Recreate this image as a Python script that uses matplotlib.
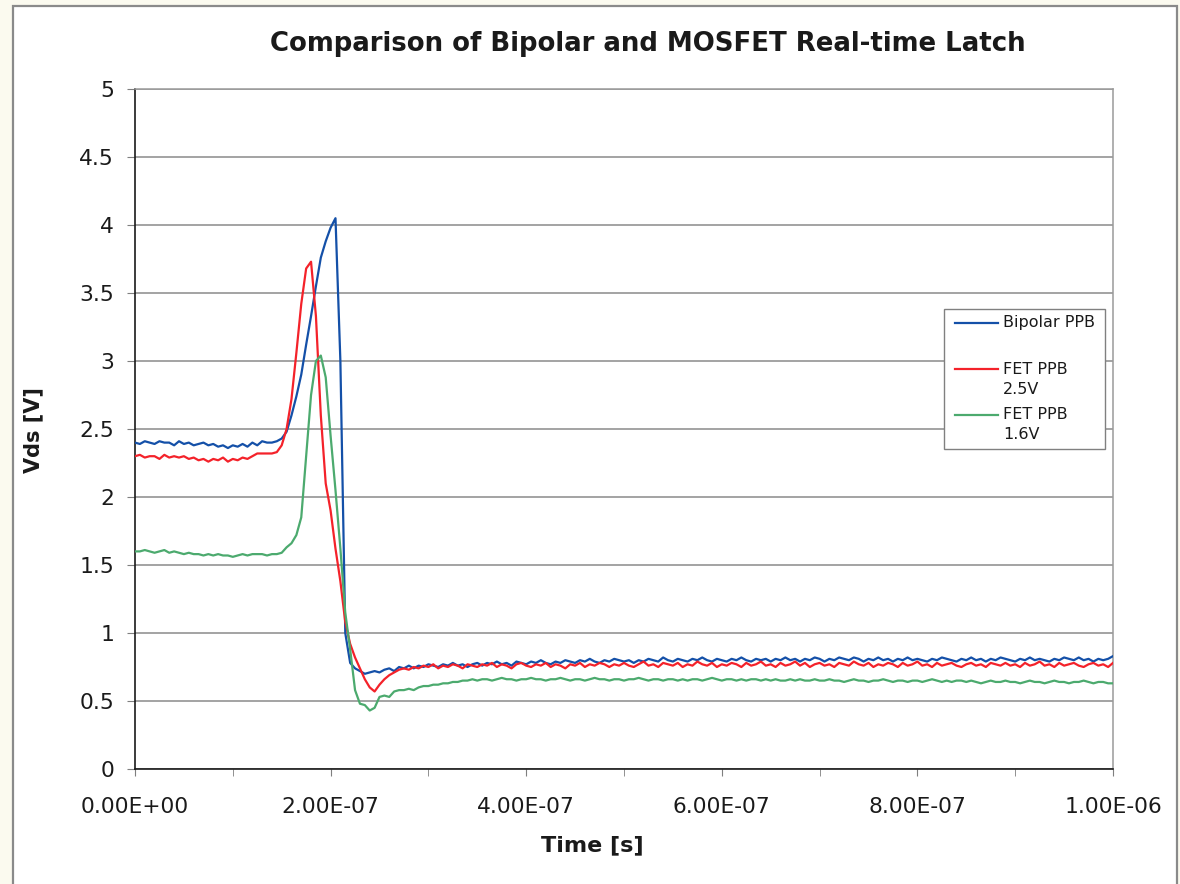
import numpy as np
import matplotlib.pyplot as plt
from matplotlib.patches import Rectangle

plt.rcParams['font.family'] = ['DejaVu Sans']

# sampled traces, one value every 5 ns from 0 to 1 us
t = np.linspace(0, 1e-6, 201)

v_bipolar = [
    2.40, 2.39, 2.41, 2.40, 2.39, 2.41, 2.40, 2.40, 2.38, 2.41,
    2.39, 2.40, 2.38, 2.39, 2.40, 2.38, 2.39, 2.37, 2.38, 2.36,
    2.38, 2.37, 2.39, 2.37, 2.40, 2.38, 2.41, 2.40, 2.40, 2.41,
    2.43, 2.48, 2.60, 2.74, 2.90, 3.12, 3.33, 3.55, 3.76, 3.88,
    3.98, 4.05, 3.00, 1.00, 0.78, 0.74, 0.72, 0.70, 0.71, 0.72,
    0.71, 0.73, 0.74, 0.72, 0.75, 0.74, 0.76, 0.74, 0.76, 0.75,
    0.77, 0.76, 0.75, 0.77, 0.76, 0.78, 0.76, 0.77, 0.75, 0.77,
    0.78, 0.76, 0.78, 0.77, 0.79, 0.77, 0.78, 0.76, 0.79, 0.78,
    0.77, 0.79, 0.78, 0.80, 0.78, 0.77, 0.79, 0.78, 0.80, 0.79,
    0.78, 0.80, 0.79, 0.81, 0.79, 0.78, 0.80, 0.79, 0.81, 0.80,
    0.79, 0.80, 0.78, 0.80, 0.79, 0.81, 0.80, 0.79, 0.82, 0.80,
    0.79, 0.81, 0.80, 0.79, 0.81, 0.80, 0.82, 0.80, 0.79, 0.81,
    0.80, 0.79, 0.81, 0.80, 0.82, 0.80, 0.79, 0.81, 0.80, 0.81,
    0.79, 0.81, 0.80, 0.82, 0.80, 0.81, 0.79, 0.81, 0.80, 0.82,
    0.81, 0.79, 0.81, 0.80, 0.82, 0.81, 0.80, 0.82, 0.81, 0.79,
    0.81, 0.80, 0.82, 0.80, 0.81, 0.79, 0.81, 0.80, 0.82, 0.80,
    0.81, 0.80, 0.79, 0.81, 0.80, 0.82, 0.81, 0.80, 0.79, 0.81,
    0.80, 0.82, 0.80, 0.81, 0.79, 0.81, 0.80, 0.82, 0.81, 0.80,
    0.79, 0.81, 0.80, 0.82, 0.80, 0.81, 0.80, 0.79, 0.81, 0.80,
    0.82, 0.81, 0.80, 0.82, 0.80, 0.81, 0.79, 0.81, 0.80, 0.81,
    0.83,
]

v_fet_25 = [
    2.30, 2.31, 2.29, 2.30, 2.30, 2.28, 2.31, 2.29, 2.30, 2.29,
    2.30, 2.28, 2.29, 2.27, 2.28, 2.26, 2.28, 2.27, 2.29, 2.26,
    2.28, 2.27, 2.29, 2.28, 2.30, 2.32, 2.32, 2.32, 2.32, 2.33,
    2.38, 2.50, 2.72, 3.06, 3.42, 3.68, 3.73, 3.33, 2.60, 2.10,
    1.90, 1.62, 1.38, 1.08, 0.92, 0.82, 0.74, 0.66, 0.60, 0.57,
    0.62, 0.66, 0.69, 0.71, 0.73, 0.74, 0.73, 0.75, 0.74, 0.76,
    0.75, 0.77, 0.74, 0.76, 0.75, 0.77, 0.76, 0.74, 0.77, 0.76,
    0.75, 0.77, 0.76, 0.78, 0.75, 0.77, 0.76, 0.74, 0.77, 0.78,
    0.76, 0.75, 0.77, 0.76, 0.78, 0.75, 0.77, 0.76, 0.74, 0.77,
    0.76, 0.78, 0.75, 0.77, 0.76, 0.78, 0.77, 0.75, 0.77, 0.76,
    0.78, 0.76, 0.75, 0.77, 0.79, 0.76, 0.77, 0.75, 0.78, 0.77,
    0.76, 0.78, 0.75, 0.77, 0.76, 0.79, 0.77, 0.76, 0.78, 0.75,
    0.77, 0.76, 0.78, 0.77, 0.75, 0.78, 0.76, 0.77, 0.79, 0.76,
    0.77, 0.75, 0.78, 0.76, 0.77, 0.79, 0.76, 0.78, 0.75, 0.77,
    0.78, 0.76, 0.77, 0.75, 0.78, 0.77, 0.76, 0.79, 0.77, 0.76,
    0.78, 0.75, 0.77, 0.76, 0.78, 0.77, 0.75, 0.78, 0.76, 0.77,
    0.79, 0.76, 0.77, 0.75, 0.78, 0.76, 0.77, 0.78, 0.76, 0.75,
    0.77, 0.78, 0.76, 0.77, 0.75, 0.78, 0.77, 0.76, 0.78, 0.76,
    0.77, 0.75, 0.78, 0.76, 0.77, 0.79, 0.76, 0.77, 0.75, 0.78,
    0.76, 0.77, 0.78, 0.76, 0.75, 0.77, 0.78, 0.76, 0.77, 0.75,
    0.78,
]

v_fet_16 = [
    1.60, 1.60, 1.61, 1.60, 1.59, 1.60, 1.61, 1.59, 1.60, 1.59,
    1.58, 1.59, 1.58, 1.58, 1.57, 1.58, 1.57, 1.58, 1.57, 1.57,
    1.56, 1.57, 1.58, 1.57, 1.58, 1.58, 1.58, 1.57, 1.58, 1.58,
    1.59, 1.63, 1.66, 1.72, 1.85, 2.30, 2.75, 3.00, 3.04, 2.88,
    2.45, 2.05, 1.62, 1.15, 0.88, 0.58, 0.48, 0.47, 0.43, 0.45,
    0.53, 0.54, 0.53, 0.57, 0.58, 0.58, 0.59, 0.58, 0.60, 0.61,
    0.61, 0.62, 0.62, 0.63, 0.63, 0.64, 0.64, 0.65, 0.65, 0.66,
    0.65, 0.66, 0.66, 0.65, 0.66, 0.67, 0.66, 0.66, 0.65, 0.66,
    0.66, 0.67, 0.66, 0.66, 0.65, 0.66, 0.66, 0.67, 0.66, 0.65,
    0.66, 0.66, 0.65, 0.66, 0.67, 0.66, 0.66, 0.65, 0.66, 0.66,
    0.65, 0.66, 0.66, 0.67, 0.66, 0.65, 0.66, 0.66, 0.65, 0.66,
    0.66, 0.65, 0.66, 0.65, 0.66, 0.66, 0.65, 0.66, 0.67, 0.66,
    0.65, 0.66, 0.66, 0.65, 0.66, 0.65, 0.66, 0.66, 0.65, 0.66,
    0.65, 0.66, 0.65, 0.65, 0.66, 0.65, 0.66, 0.65, 0.65, 0.66,
    0.65, 0.65, 0.66, 0.65, 0.65, 0.64, 0.65, 0.66, 0.65, 0.65,
    0.64, 0.65, 0.65, 0.66, 0.65, 0.64, 0.65, 0.65, 0.64, 0.65,
    0.65, 0.64, 0.65, 0.66, 0.65, 0.64, 0.65, 0.64, 0.65, 0.65,
    0.64, 0.65, 0.64, 0.63, 0.64, 0.65, 0.64, 0.64, 0.65, 0.64,
    0.64, 0.63, 0.64, 0.65, 0.64, 0.64, 0.63, 0.64, 0.65, 0.64,
    0.64, 0.63, 0.64, 0.64, 0.65, 0.64, 0.63, 0.64, 0.64, 0.63,
    0.63,
]

series_names = ["Bipolar PPB", "FET PPB\n2.5V", "FET PPB\n1.6V"]
series_colors = ["#1450a8", "#f4222a", "#4caa6e"]

x_ticks = np.arange(0, 1.01e-6, 2e-7)
x_labels = ["%.2E" % v for v in x_ticks]
y_ticks = np.arange(0, 5.01, 0.5)
y_labels = ["0", "0.5", "1", "1.5", "2", "2.5", "3", "3.5", "4", "4.5", "5"]

fig = plt.figure(figsize=(11.8, 8.84), dpi=100, facecolor="#fbfaef")
# white chart sheet with its grey frame, kept behind the axes
fig.patches.append(Rectangle((13 / 1180, -0.05), 1164 / 1180, 1.05 - 6 / 884,
                             transform=fig.transFigure, facecolor="white",
                             edgecolor="#8a8a8a", linewidth=1.6, zorder=-5))

ax = fig.add_axes([135 / 1180, 1 - 769 / 884, 978 / 1180, 680 / 884])
ax.set_facecolor("white")

for v, c in zip([v_bipolar, v_fet_25, v_fet_16], series_colors):
    ax.plot(t, v, color=c, linewidth=1.6, zorder=3)

ax.set_xlim(0, 1e-6)
ax.set_ylim(0, 5)
ax.set_xticks(x_ticks)
ax.set_xticklabels(x_labels)
ax.set_xticks(np.arange(0, 1.01e-6, 1e-7), minor=True)
ax.set_yticks(y_ticks)
ax.set_yticklabels(y_labels)

ax.grid(axis="y", color="#8a8a8a", linewidth=1.1, zorder=1)
ax.tick_params(axis="both", which="both", direction="out", color="#7f7f7f",
               labelsize=15.7, labelcolor="#1a1a1a")
ax.tick_params(axis="x", which="major", length=5, pad=15)
ax.tick_params(axis="x", which="minor", length=5)
ax.tick_params(axis="y", length=6, pad=9)

for side in ["top", "right"]:
    ax.spines[side].set_color("#9a9a9a")
    ax.spines[side].set_linewidth(1.1)
for side in ["left", "bottom"]:
    ax.spines[side].set_color("#1a1a1a")
    ax.spines[side].set_linewidth(1.2)

# legend box drawn by hand so the keys sit on the first text line
ax.add_patch(Rectangle((0.8272, 0.4706), 0.1646, 0.2059, transform=ax.transAxes,
                       facecolor="white", edgecolor="#808080", linewidth=1.0,
                       zorder=5))
key_y = [0.6559, 0.5882, 0.5206]
for name, c, y in zip(series_names, series_colors, key_y):
    ax.plot([0.8384, 0.8824], [y, y], color=c, linewidth=1.6,
            transform=ax.transAxes, zorder=6)
    for i, line in enumerate(name.split("\n")):
        ax.text(0.8875, y - i * 0.0294, line, transform=ax.transAxes,
                fontsize=11.5, va="center", ha="left", color="#1a1a1a",
                zorder=6)

fig.text(648 / 1180, 1 - 44 / 884, "Comparison of Bipolar and MOSFET Real-time Latch",
         ha="center", va="center", fontsize=18.7, fontweight="bold", color="#1a1a1a")
fig.text(592 / 1180, 1 - 845 / 884, "Time [s]", ha="center", va="center",
         fontsize=16, fontweight="bold", color="#1a1a1a")
fig.text(33 / 1180, 1 - 430 / 884, "Vds [V]", ha="center", va="center",
         rotation=90, fontsize=15, fontweight="bold", color="#1a1a1a")

fig.savefig("out.png", dpi=100, facecolor=fig.get_facecolor())
